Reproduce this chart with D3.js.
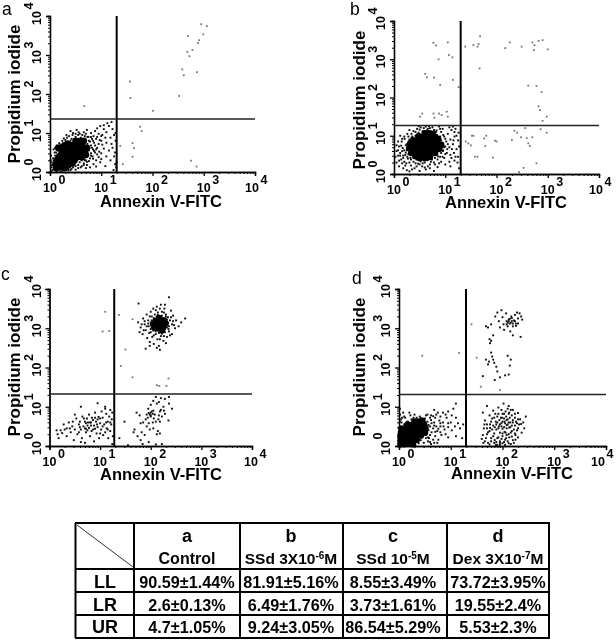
<!DOCTYPE html>
<html lang="en">
<head>
<meta charset="utf-8">
<script src="https://d3js.org/d3.v7.min.js"></script>
<style>
  html, body { margin: 0; padding: 0; background: #fff; }
  svg { display: block; font-family: "Liberation Sans", Arial, sans-serif; }
  .axis path, .axis line { stroke: #000; stroke-width: 1.3px; }
  .axis .minor line { stroke-width: 1px; }
</style>
</head>
<body>
<script>
// Every event is [log10 Annexin, log10 PI].
// "core" lists stand for the solid black blobs, where single events merge.
const coreA = [[.12,.1],[.2,.13],[.29,.1],[.11,.2],[.19,.22],[.27,.19],[.36,.17],[.43,.22],[.14,.31],[.23,.3],[.31,.27],[.39,.29],[.48,.3],[.18,.4],[.27,.39],[.35,.36],[.43,.4],[.52,.38],[.58,.44],[.23,.5],[.31,.48],[.39,.47],[.47,.5],[.55,.52],[.63,.5],[.31,.58],[.39,.57],[.47,.6],[.55,.62],[.63,.6],[.68,.56],[.4,.68],[.48,.7],[.56,.72],[.63,.69],[.5,.8],[.58,.79],[.16,.62],[.22,.6],[.28,.68],[.34,.72],[.62,.38],[.7,.44],[.72,.62],[.66,.8]];
const looseA = [[.05,.05],[.08,.22],[.03,.12],[.06,.35],[.1,.42],[.12,.5],[.16,.55],[.13,.03],[.2,.02],[.28,.05],[.35,.08],[.4,.05],[.45,.12],[.5,.15],[.55,.18],[.48,.2],[.58,.25],[.62,.3],[.66,.22],[.7,.3],[.68,.38],[.74,.42],[.78,.35],[.8,.48],[.76,.55],[.84,.58],[.72,.62],[.88,.5],[.92,.62],[.8,.68],[.86,.75],[.78,.78],[.95,.72],[.9,.85],[1.0,.8],[1.02,.95],[.95,.98],[.85,.92],[.75,.9],[.68,.92],[.6,.88],[.5,.9],[.42,.85],[.35,.78],[.28,.72],[.22,.62],[.2,.7],[.3,.82],[.45,1.0],[.58,.98],[.66,1.02],[.8,1.0],[.88,1.05],[.92,1.12],[1.05,1.1],[1.1,1.02],[1.15,1.18],[1.12,1.25],[1.05,1.2],[1.2,1.28],[1.22,1.1],[1.25,.95],[1.18,.88],[1.1,.75],[1.2,.72],[1.05,.6],[1.15,.55],[1.22,.62],[1.25,.4],[1.1,.4],[1.0,.48],[.95,.38],[.98,.25],[.85,.2],[1.18,.3],[1.27,.2],[1.24,.05],[.73,.72],[.82,.85],[.7,.8],[.77,.62],[.83,.4],[.9,.3],[.72,.18],[.6,.12],[.02,.02],[.03,.25],[.17,.06],[.01,.3],[.33,.68],[.4,.8],[.55,.95],[.62,.8],[1.3,.25],[1.28,.8],[1.28,1.0],[1.27,.5],[1.29,.12]];
const fringeA = [[.04,.18],[.07,.3],[.02,.42],[.09,.5],[.07,.58],[.14,.68],[.1,.62],[.18,.74],[.24,.8],[.27,.86],[.33,.88],[.37,.92],[.44,.95],[.5,.98],[.56,1.02],[.63,.95],[.7,.98],[.73,.9],[.8,.9],[.84,.8],[.88,.68],[.82,.62],[.86,.54],[.8,.42],[.84,.34],[.76,.28],[.72,.26],[.66,.18],[.62,.15],[.55,.1],[.5,.06],[.42,.08],[.36,.04],[.24,.03],[.76,.8],[.92,.9],[.97,.82],[1.0,.92],[1.08,.88],[.9,.58],[.96,.52],[1.02,.7],[.7,.1],[.78,.12],[.9,.14],[1.08,.15],[.58,.35],[.68,.3],[.92,.45],[1.0,.33],[.32,.95],[.4,1.05],[.52,1.08],[.72,1.08],[.98,1.18]];
const paleA = [[3.06,3.74],[2.95,3.79],[2.69,3.49],[2.99,3.53],[2.91,3.38],[2.89,3.31],[2.78,3.13],[2.68,3.08],[2.72,2.97],[2.58,2.63],[2.61,2.48],[2.87,2.56],[1.56,2.32],[1.57,1.9],[2.52,1.95],[2.01,1.57],[.67,1.69],[1.76,1.16],[1.79,1.05],[1.61,.74],[1.64,.61],[1.61,.39],[1.37,.67],[1.42,.2],[2.75,.29],[2.86,.14]];
const coreB = [[.34,.55],[.42,.47],[.5,.42],[.6,.42],[.7,.45],[.3,.68],[.38,.62],[.46,.58],[.55,.56],[.63,.55],[.72,.55],[.8,.55],[.32,.8],[.4,.75],[.48,.72],[.56,.7],[.64,.7],[.72,.7],[.8,.68],[.88,.66],[.38,.88],[.46,.86],[.54,.84],[.62,.84],[.7,.84],[.78,.82],[.86,.8],[.92,.76],[.48,.98],[.56,.96],[.64,.98],[.72,.96],[.8,.94],[.86,.92],[.6,1.06],[.68,1.06],[.76,1.04]];
const looseB = [[.05,.3],[.1,.2],[.18,.15],[.25,.1],[.33,.22],[.4,.15],[.47,.27],[.55,.2],[.62,.12],[.7,.25],[.78,.3],[.85,.18],[.92,.32],[1.0,.25],[1.1,.2],[1.18,.35],[.08,.48],[.14,.38],[.2,.32],[.27,.4],[.05,.6],[.12,.55],[.18,.48],[.23,.56],[.1,.72],[.17,.68],[.23,.75],[.15,.85],[.21,.92],[.28,.98],[.34,1.05],[.42,1.1],[.5,1.16],[.58,1.2],[.66,1.18],[.75,1.22],[.83,1.14],[.92,1.1],[.98,.98],[1.05,1.05],[1.12,1.15],[1.2,1.18],[1.26,1.08],[1.02,.85],[1.1,.9],[1.18,.98],[1.25,.88],[1.0,.72],[1.08,.7],[1.15,.78],[1.22,.65],[.95,.6],[1.03,.55],[1.1,.5],[1.17,.55],[1.25,.45],[.9,.45],[.98,.42],[1.27,.72],[1.24,.3],[1.27,.15],[.33,.38],[.25,.62],[.38,.32],[.6,.3],[.85,.38],[.12,1.0],[.3,1.15],[.95,1.18],[.68,1.25],[.48,1.25],[1.15,1.24],[.22,.22],[.3,.07],[.5,.08],[.78,.08]];
const fringeB = [[.18,.42],[.22,.5],[.2,.62],[.25,.78],[.3,.9],[.34,.95],[.28,.52],[.26,.45],[.32,.42],[.38,.42],[.44,.38],[.36,.5],[.52,.33],[.58,.36],[.66,.36],[.74,.38],[.8,.42],[.86,.46],[.92,.55],[.96,.62],[.98,.7],[.95,.8],[.92,.88],[.9,.98],[.84,1.02],[.82,1.1],[.72,1.12],[.64,1.14],[.56,1.12],[.48,1.08],[.42,1.0],[.36,.98],[.16,.6],[.14,.74],[.08,.62],[.12,.48],[.1,.35],[.16,.28],[.24,.28],[.3,.3],[.42,.28],[.5,.25],[.56,.28],[.66,.2],[.72,.32],[.8,.25],[.88,.28],[.95,.45],[1.0,.52],[1.04,.65],[1.05,.78],[1.0,.92],[.96,1.02],[.9,1.18],[.78,1.15],[.7,1.2],[.62,1.24],[.52,1.22],[.45,1.18],[.38,1.12],[.26,1.05],[.2,.98],[.16,.92],[.08,.85],[.05,.75],[.03,.45],[.35,.12],[.44,.2],[1.13,.65],[1.12,.42],[1.08,.32],[1.2,.45],[1.16,.88],[1.22,1.0],[1.18,1.1],[1.08,1.22],[.88,1.24],[.6,.17],[.7,.15]];
const paleB = [[1.52,1.0],[1.55,1.0],[1.45,.8],[1.5,.75],[1.4,.85],[1.58,.45],[1.63,.45],[1.76,.93],[1.8,1.0],[1.78,.73],[1.97,.87],[2.0,.85],[1.93,.43],[2.3,.89],[2.4,1.08],[2.35,1.13],[2.48,.96],[2.56,1.2],[2.59,.94],[2.7,.96],[2.62,.8],[2.65,.73],[2.86,1.17],[2.98,1.08],[2.78,.28],[2.53,.16],[2.44,.05],[1.39,3.33],[1.55,3.37],[1.65,3.4],[1.63,3.33],[1.67,2.76],[1.68,3.6],[2.17,3.29],[2.26,3.44],[2.49,3.33],[2.7,3.44],[2.74,3.37],[2.82,3.48],[2.9,3.5],[3.0,3.26],[2.73,3.24],[2.62,2.31],[2.78,2.3],[2.88,2.14],[2.82,1.77],[2.85,1.67],[2.9,1.39],[2.98,1.5],[.77,3.43],[.82,3.36],[1.05,3.44],[1.07,3.11],[1.14,3.05],[.87,3.0],[.61,2.62],[.64,2.53],[.78,2.52],[.9,2.33],[1.15,2.46],[1.26,2.27],[.51,1.5],[.55,1.58],[.77,1.58],[.79,1.47],[.88,1.58],[1.03,1.63],[1.05,1.5],[.93,1.54]];
const coreC = [[2.08,3.02],[2.16,3.0],[2.24,3.03],[2.05,3.1],[2.13,3.09],[2.21,3.1],[2.29,3.12],[2.1,3.18],[2.18,3.18],[2.26,3.2],[2.16,3.26],[2.22,2.95]];
const looseC = [[1.75,3.15],[1.8,3.02],[1.78,2.9],[1.85,3.25],[1.88,3.1],[1.84,2.85],[1.9,2.95],[1.92,3.35],[1.95,3.2],[1.96,3.05],[1.93,2.75],[1.98,2.65],[2.0,3.42],[2.02,3.3],[2.0,2.9],[2.03,2.78],[2.05,3.5],[2.08,3.35],[2.06,2.6],[2.1,2.85],[2.12,3.55],[2.14,3.4],[2.13,2.72],[2.16,2.55],[2.18,2.45],[2.2,3.6],[2.22,3.42],[2.2,2.8],[2.25,2.68],[2.27,3.5],[2.3,3.35],[2.28,2.9],[2.32,2.78],[2.34,3.28],[2.36,3.05],[2.38,3.2],[2.36,2.92],[2.42,3.1],[2.44,3.32],[2.42,2.85],[2.48,3.0],[2.5,3.2],[2.55,3.05],[2.6,3.15],[2.68,3.25],[2.4,3.45],[1.9,2.48],[1.98,2.55],[2.3,2.62],[2.12,2.5],[2.36,3.79],[1.76,3.63],[2.1,1.25],[2.2,1.22],[2.05,1.15],[2.16,1.12],[2.28,1.2],[2.36,1.25],[2.0,1.05],[2.12,1.08],[2.25,1.0],[2.36,1.08],[2.42,.95],[1.95,.95],[2.05,.9],[2.18,.88],[2.28,.82],[2.22,.75],[2.35,.65],[1.72,.85],[1.78,.78],[1.92,.8],[2.0,.75],[2.06,.7],[2.16,.78],[1.9,.68],[1.96,.58],[2.04,.6],[1.85,.6],[1.92,.5],[2.1,.62],[2.14,.38],[2.18,.32],[1.82,.35],[1.88,.28],[1.8,.15],[1.68,.42],[1.66,.35],[1.74,.25],[1.84,.05],[1.96,.1],[2.1,.04],[2.22,.05],[1.55,.02],[1.38,.2],[1.48,.62],[.14,.4],[.16,.3],[.18,.2],[.25,.33],[.3,.42],[.34,.25],[.38,.6],[.42,.35],[.45,.5],[.48,.15],[.5,.42],[.53,.7],[.55,.3],[.58,.55],[.6,.62],[.62,.42],[.64,.2],[.65,.75],[.67,.5],[.7,.08],[.7,.62],[.72,.35],[.74,.7],[.75,.52],[.78,.46],[.78,.8],[.8,.6],[.8,.25],[.83,.38],[.84,.72],[.86,.66],[.88,.52],[.88,.12],[.9,.85],[.92,.62],[.93,.32],[.95,.48],[.97,.74],[.98,.2],[1.0,.58],[1.02,.42],[1.03,.88],[1.05,.72],[1.06,.28],[1.08,.55],[1.1,.95],[1.12,.82],[1.13,.45],[1.15,.62],[1.16,.2],[1.18,.75],[1.2,.92],[1.2,.38],[1.22,.55],[1.23,.68],[1.24,.85],[1.25,.25],[1.24,.05],[.95,1.09],[1.1,1.0],[.62,1.0],[.62,.1],[.5,.8],[.82,.52],[.76,.6],[.72,.58],[.9,.44],[1.0,.7]];
const fringeC = [[1.95,3.12],[2.0,3.15],[2.02,3.02],[2.0,2.98],[2.05,2.94],[2.1,2.92],[2.16,2.88],[2.22,2.86],[2.28,2.98],[2.32,3.02],[2.34,3.14],[2.32,3.22],[2.3,3.3],[2.22,3.32],[2.14,3.34],[2.06,3.26],[2.02,3.2],[1.88,3.18],[1.92,3.05],[1.97,2.88],[2.06,2.82],[2.18,2.72],[2.26,2.8],[2.35,2.98],[2.4,3.28],[2.26,3.4],[2.1,3.46],[1.98,3.3],[1.82,3.1],[1.86,2.95],[2.44,3.18],[2.46,3.08],[2.38,2.82],[2.28,3.6],[2.18,3.5],[2.0,.85],[1.98,.8],[2.02,.88],[1.96,.84],[2.0,.78],[2.04,.82],[1.94,.72],[2.08,.8],[2.15,.68],[2.2,.92],[2.18,.62],[2.26,.9],[2.05,.45],[2.12,.3],[1.98,.42],[1.8,.58],[.6,.48],[.7,.45],[.75,.4],[.82,.6],[.86,.42],[.68,.7],[.72,.44],[.9,.72],[.94,.55],[.58,.35],[.46,.62],[.4,.45],[.95,.68],[1.05,.5],[1.12,.6],[1.15,.42],[1.2,.6],[1.0,.32],[1.1,.35],[.34,.45],[.28,.55],[.22,.4]];
const paleC = [[1.64,3.23],[1.1,3.42],[1.05,2.92],[1.18,2.93],[1.37,3.34],[1.5,2.46],[1.41,2.04],[1.64,1.75],[2.35,1.72],[2.12,1.55],[2.17,1.53],[2.31,1.53]];
const coreD = [[.03,.05],[.1,.05],[.18,.06],[.27,.05],[.03,.14],[.1,.15],[.18,.14],[.26,.15],[.34,.16],[.03,.24],[.1,.24],[.18,.24],[.26,.25],[.34,.25],[.42,.27],[.04,.34],[.11,.34],[.19,.34],[.27,.34],[.35,.34],[.43,.36],[.5,.34],[.05,.44],[.13,.44],[.2,.44],[.28,.44],[.36,.44],[.44,.44],[.51,.46],[.16,.53],[.24,.53],[.32,.53],[.4,.53],[.48,.55],[.3,.62],[.38,.62],[.45,.63]];
const looseD = [[.05,.6],[.1,.55],[.04,.68],[.12,.72],[.18,.62],[.24,.68],[.02,.8],[.08,.85],[.02,.95],[.22,.78],[.34,.72],[.42,.72],[.5,.7],[.55,.62],[.57,.54],[.57,.4],[.6,.28],[.52,.2],[.42,.15],[.38,.07],[.48,.08],[.56,.12],[.62,.05],[.66,.16],[.63,.35],[.66,.45],[.62,.66],[.68,.6],[.72,.5],[.74,.38],[.7,.25],[.76,.16],[.82,.28],[.55,.8],[.62,.78],[.7,.72],[.78,.65],[.8,.5],[.85,.6],[.88,.42],[.92,.72],[.95,.58],[.75,.85],[.85,.85],[.68,.92],[.95,.88],[1.02,.78],[1.1,.72],[1.05,.95],[1.1,1.08],[1.14,.58],[1.18,.45],[1.02,.4],[1.1,.25],[.95,.22],[1.24,.55],[1.22,.2],[1.62,.85],[1.66,.65],[1.64,.45],[1.62,.28],[1.66,.12],[1.7,.55],[1.72,.35],[1.72,.08],[1.75,.78],[1.78,.62],[1.76,.46],[1.78,.2],[1.82,.9],[1.84,.72],[1.82,.52],[1.84,.32],[1.84,.08],[1.87,.62],[1.88,.42],[1.9,.2],[1.9,.03],[1.92,.82],[1.94,.66],[1.93,.5],[1.95,.34],[1.95,.12],[1.98,.92],[1.99,.72],[1.98,.58],[2.0,.44],[2.0,.25],[2.0,.07],[2.03,.82],[2.04,.62],[2.04,.36],[2.05,.16],[2.07,.75],[2.08,.53],[2.08,.28],[2.1,.95],[2.1,.68],[2.1,.12],[2.13,.85],[2.13,.47],[2.13,.22],[2.15,.6],[2.16,.34],[2.16,.05],[2.18,.78],[2.18,.52],[2.2,.92],[2.2,.66],[2.2,.15],[2.22,.42],[2.24,.72],[2.25,.28],[2.28,.58],[2.3,.84],[2.3,.45],[2.34,.68],[2.36,.56],[2.37,.34],[1.92,.98],[2.02,1.08],[2.12,1.02],[1.7,1.02],[1.68,3.05],[1.72,3.02],[1.78,3.1],[1.82,2.82],[1.86,3.3],[1.9,3.4],[1.93,3.18],[1.95,3.02],[1.98,3.46],[2.0,3.28],[2.02,3.1],[2.03,2.96],[2.07,3.38],[2.08,3.18],[2.1,3.05],[2.12,3.22],[2.14,3.12],[2.15,2.92],[2.17,3.3],[2.18,3.18],[2.2,3.05],[2.22,3.2],[2.24,3.34],[2.26,3.12],[2.28,3.4],[2.3,3.25],[2.33,3.38],[2.36,3.3],[2.38,3.22],[2.35,2.78],[2.2,2.82],[1.75,2.72],[1.76,2.62],[1.78,2.68],[1.78,2.38],[1.8,2.28],[1.74,2.15],[1.72,2.08],[1.68,2.2],[1.62,1.78],[1.82,2.2],[1.84,2.12],[1.88,2.02],[1.9,1.9],[1.95,1.75],[2.05,1.8],[2.12,1.82],[2.14,2.05],[2.16,2.2],[1.85,1.68],[2.1,2.3]];
const fringeD = [[1.9,.6],[1.95,.55],[2.0,.62],[2.05,.58],[2.1,.55],[1.98,.5],[2.03,.48],[2.08,.45],[1.92,.45],[2.12,.6],[2.15,.48],[1.88,.55],[1.85,.48],[1.8,.42],[1.75,.38],[1.7,.3],[1.68,.2],[1.78,.12],[1.85,.15],[1.92,.22],[1.98,.18],[2.03,.1],[2.07,.2],[2.12,.3],[2.18,.24],[2.22,.08],[2.25,.16],[2.3,.22],[1.95,.08],[1.88,.1],[1.82,.25],[2.0,.32],[2.06,.34],[1.97,.72],[2.03,.7],[2.08,.66],[2.14,.72],[2.2,.6],[2.24,.52],[2.28,.4],[2.32,.55],[2.12,.82],[2.06,.88],[2.0,.82],[1.9,.75],[1.86,.82],[1.8,.7],[1.76,.55],[1.7,.45],[1.65,.55],[1.6,.18],[1.63,.08],[1.75,.04],[1.87,.03],[1.95,.03],[2.05,.03],[2.12,.07],[2.18,.38],[2.24,.32],[2.26,.62],[2.16,.92],[2.24,.82],[2.3,.68],[2.4,.6],[2.42,.45],[2.45,.75],[.58,.2],[.6,.5],[.63,.58],[.68,.52],[.7,.36],[.76,.44],[.8,.58],[.86,.5],[.6,.72],[.66,.76],[.72,.8],[.8,.75],[.9,.8],[.95,.48],[.46,.7],[.52,.78],[.4,.75],[.28,.72],[.15,.62],[.1,.75],[.2,.85],[.3,.8],[.02,.62],[.06,.72],[.56,.22],[.6,.1],[.68,.08],[.74,.08],[.8,.35],[.9,.3],[1.0,.6],[1.08,.5],[2.12,3.18],[2.16,3.14],[2.2,3.12],[2.1,3.14],[2.24,3.18],[2.14,3.24],[2.08,3.1],[2.26,3.06],[2.18,3.26],[2.3,3.12]];
const paleD = [[.45,2.3],[1.16,2.37],[1.58,1.51],[1.95,1.43],[1.4,3.1],[1.5,2.25]];

const corePoints = [coreA, coreB, coreC, coreD];
const loosePoints = [looseA.concat(fringeA), looseB.concat(fringeB), looseC.concat(fringeC), looseD.concat(fringeD)];
const palePoints = [paleA, paleB, paleC, paleD];
const panelNames = ["a", "b", "c", "d"];
const gateX = [20, 20, 19, 19.7];
const gateY = [23, 18.5, 21, 20.5];
const decades = [1, 10, 100, 1000, 10000];
const decadeExp = ["0", "1", "2", "3", "4"];

const rowNames = ["LL", "LR", "UR"];
const colLetters = ["a", "b", "c", "d"];
const colTitles = [
  [["Control", 0]],
  [["SSd 3X10", 0], ["-6", 1], ["M", 0]],
  [["SSd 10", 0], ["-5", 1], ["M", 0]],
  [["Dex 3X10", 0], ["-7", 1], ["M", 0]]
];
const rowLL = ["90.59±1.44%", "81.91±5.16%", "8.55±3.49%", "73.72±3.95%"];
const rowLR = ["2.6±0.13%", "6.49±1.76%", "3.73±1.61%", "19.55±2.4%"];
const rowUR = ["4.7±1.05%", "9.24±3.05%", "86.54±5.29%", "5.53±2.3%"];
const tableRows = [rowLL, rowLR, rowUR];

// pixel frames of the four plots, lastShift nudges the 10^4 label left
const frames = [
  { l: 50, r: 255, t: 16, b: 172, letterX: 2, letterY: 15, titleX: 161, titleY: 207, sideX: 20, sideY: 94, lastShift: -3 },
  { l: 394, r: 599, t: 21, b: 174, letterX: 350, letterY: 15, titleX: 506, titleY: 208, sideX: 365, sideY: 100, lastShift: -3 },
  { l: 49.5, r: 252, t: 289, b: 446, letterX: 1, letterY: 280, titleX: 161, titleY: 480, sideX: 20, sideY: 367, lastShift: -1 },
  { l: 399, r: 606, t: 289, b: 446, letterX: 352, letterY: 284, titleX: 512, titleY: 479, sideX: 365, sideY: 367, lastShift: -8 }
];

const svg = d3.select("body").append("svg").attr("width", 616).attr("height", 640);
const soft = svg.append("defs").append("filter").attr("id", "soft");
soft.append("feGaussianBlur").attr("stdDeviation", 0.35);

// minor ticks of a log axis: 2..9 in every decade
const minorTicks = decades.slice(0, 4).flatMap(d => d3.range(2, 10).map(k => d * k));

// "10" with its exponent as one text element
function powerLabel(sel, exp) {
  sel.style("font-size", "12.5px").style("font-weight", "bold");
  sel.append("tspan").text("10");
  sel.append("tspan").attr("dx", 1.5).attr("dy", -8).text(exp);
}

frames.forEach((f, i) => {
  const x = d3.scaleLog().domain([1, 10000]).range([f.l, f.r]);
  const y = d3.scaleLog().domain([1, 10000]).range([f.b, f.t]);
  const g = svg.append("g").attr("filter", "url(#soft)");

  g.append("text").attr("x", f.letterX).attr("y", f.letterY)
    .style("font-size", "17.5px").text(panelNames[i]);

  // events: isolated ones print paler than the clusters
  g.append("g").selectAll("rect").data(palePoints[i]).join("rect")
    .attr("x", d => x(10 ** d[0]) - 0.9)
    .attr("y", d => y(10 ** d[1]) - 0.9)
    .attr("width", 1.8).attr("height", 1.8).attr("fill", "#777");
  g.append("g").selectAll("rect").data(loosePoints[i]).join("rect")
    .attr("x", d => x(10 ** d[0]) - 0.95)
    .attr("y", d => y(10 ** d[1]) - 0.95)
    .attr("width", 1.9).attr("height", 1.9).attr("fill", "#111");
  g.append("g").selectAll("circle").data(corePoints[i]).join("circle")
    .attr("cx", d => x(10 ** d[0]))
    .attr("cy", d => y(10 ** d[1]))
    .attr("r", 3.4).attr("fill", "#000");

  // axes, minor ticks first
  const bottom = g.append("g").attr("class", "axis").attr("transform", "translate(0," + f.b + ")");
  bottom.append("g").attr("class", "minor")
    .call(d3.axisBottom(x).tickValues(minorTicks).tickSize(2).tickFormat(""));
  bottom.append("g")
    .call(d3.axisBottom(x).tickValues(decades).tickSize(4).tickFormat(""));
  const left = g.append("g").attr("class", "axis").attr("transform", "translate(" + f.l + ",0)");
  left.append("g").attr("class", "minor")
    .call(d3.axisLeft(y).tickValues(minorTicks).tickSize(2).tickFormat(""));
  left.append("g")
    .call(d3.axisLeft(y).tickValues(decades).tickSize(4).tickFormat(""));

  // tick labels: "10" sits centred on the tick, exponent after it
  decades.forEach((d, k) => {
    const shift = k === 4 ? f.lastShift : 0;
    g.append("text").attr("x", x(d) - 7 + shift).attr("y", f.b + 20)
      .call(powerLabel, decadeExp[k]);
    g.append("text").attr("transform", "translate(" + (f.l - 9) + "," + (y(d) + 9) + ") rotate(-90)")
      .call(powerLabel, decadeExp[k]);
  });

  // quadrant gates
  g.append("line").attr("x1", x(gateX[i])).attr("x2", x(gateX[i])).attr("y1", f.t).attr("y2", f.b)
    .attr("stroke", "#000").attr("stroke-width", 2);
  g.append("line").attr("x1", f.l).attr("x2", f.r).attr("y1", y(gateY[i])).attr("y2", y(gateY[i]))
    .attr("stroke", "#222").attr("stroke-width", 1.5);

  // axis titles
  g.append("text").attr("x", f.titleX).attr("y", f.titleY)
    .attr("text-anchor", "middle").style("font-size", "16.5px").style("font-weight", "bold")
    .text("Annexin V-FITC");
  g.append("text").attr("transform", "translate(" + f.sideX + "," + f.sideY + ") rotate(-90)")
    .attr("text-anchor", "middle").style("font-size", "17px").style("font-weight", "bold")
    .text("Propidium iodide");
});

// table under the plots
const colEdges = [75.5, 134, 240, 343, 447, 549];
const rowEdges = [523, 569, 592, 615, 638];
const colCenters = [187, 291, 393, 498];
const rowBase = [588, 611, 633];
const tg = svg.append("g").attr("filter", "url(#soft)");

tg.selectAll("line.v").data(colEdges).join("line").attr("class", "v")
  .attr("x1", d => d).attr("x2", d => d).attr("y1", 523).attr("y2", 638)
  .attr("stroke", "#000").attr("stroke-width", 2);
tg.selectAll("line.h").data(rowEdges).join("line").attr("class", "h")
  .attr("x1", 75).attr("x2", 550).attr("y1", d => d).attr("y2", d => d)
  .attr("stroke", "#000").attr("stroke-width", 2);
tg.append("line").attr("x1", 77).attr("y1", 525).attr("x2", 133).attr("y2", 567)
  .attr("stroke", "#333").attr("stroke-width", 1);

colLetters.forEach((c, i) => {
  tg.append("text").attr("x", colCenters[i]).attr("y", 542).attr("text-anchor", "middle")
    .style("font-size", "18px").style("font-weight", "bold").text(c);
  const t = tg.append("text").attr("x", colCenters[i]).attr("y", 564).attr("text-anchor", "middle")
    .style("font-size", i === 0 ? "16px" : "15.5px").style("font-weight", "bold");
  colTitles[i].forEach(part => {
    const sup = part[1] === 1;
    const after = part[0] === "M";
    t.append("tspan").text(part[0])
      .style("font-size", sup ? "10px" : null)
      .attr("dy", sup ? -5 : (after ? 5 : 0));
  });
});

rowNames.forEach((r, i) => {
  tg.append("text").attr("x", 105).attr("y", rowBase[i]).attr("text-anchor", "middle")
    .style("font-size", "18px").style("font-weight", "bold").text(r);
  tableRows[i].forEach((v, j) => {
    tg.append("text").attr("x", colCenters[j]).attr("y", rowBase[i]).attr("text-anchor", "middle")
      .style("font-size", "16.2px").style("font-weight", "bold").text(v);
  });
});
</script>
</body>
</html>
